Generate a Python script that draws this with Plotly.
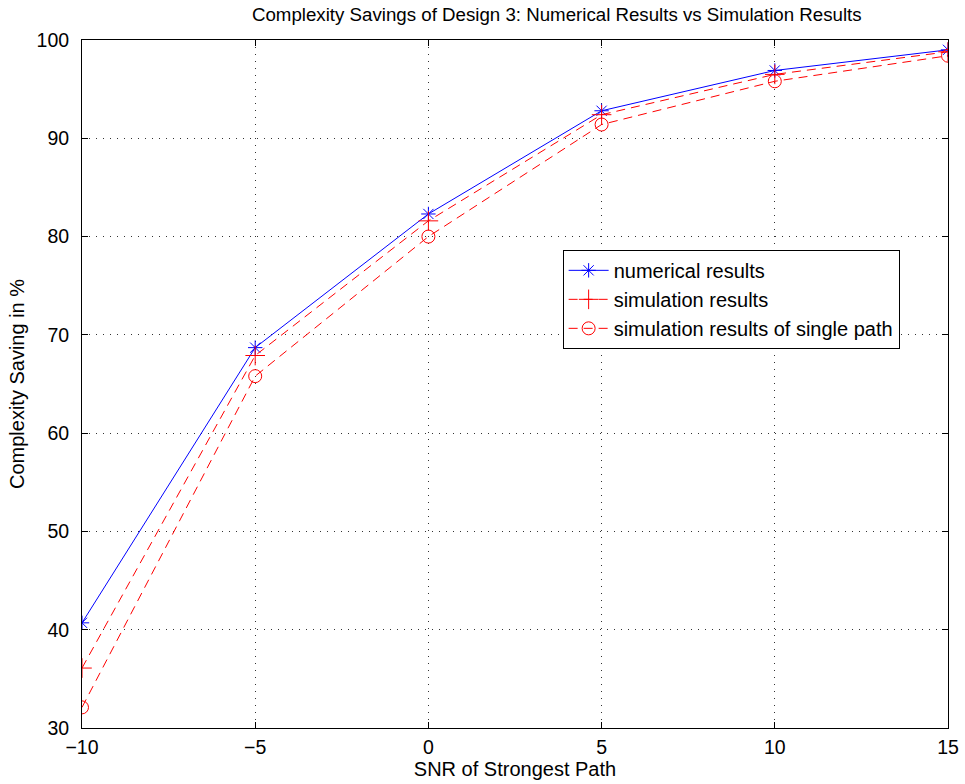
import plotly.graph_objects as go

snr = [-10, -5, 0, 5, 10, 15]
numerical = [40.7, 68.7, 82.3, 92.8, 96.9, 99.0]
simulation = [36.1, 67.9, 81.6, 92.4, 96.5, 98.8]
single_path = [32.1, 65.8, 80.0, 91.4, 95.8, 98.4]

x_ticks = [-10, -5, 0, 5, 10, 15]
y_ticks = [30, 40, 50, 60, 70, 80, 90, 100]

FONT = "Liberation Sans, Arial"

fig = go.Figure()
fig.add_trace(go.Scatter(
    x=snr, y=numerical, mode="lines+markers", name="numerical results",
    line=dict(color="blue", width=1),
    marker=dict(symbol="asterisk-open", size=12, color="blue", line=dict(color="blue", width=1))))
fig.add_trace(go.Scatter(
    x=snr, y=simulation, mode="lines+markers", name="simulation results",
    line=dict(color="red", width=1, dash="9px,6px"),
    marker=dict(symbol="cross-thin-open", size=14, color="red", line=dict(color="red", width=1))))
fig.add_trace(go.Scatter(
    x=snr, y=single_path, mode="lines+markers", name="simulation results of single path",
    line=dict(color="red", width=1, dash="9px,6px"),
    marker=dict(symbol="circle-open", size=13, color="red", line=dict(color="red", width=1))))

axis_common = dict(
    showline=True, linecolor="black", linewidth=1, mirror="ticks",
    ticks="inside", ticklen=6, tickcolor="black",
    showgrid=True, gridcolor="#333333", griddash="1px,6px", gridwidth=1,
    zeroline=False, automargin=False,
    tickfont=dict(family=FONT, size=19.5, color="black"),
)

fig.update_xaxes(range=[-10, 15], tickvals=x_ticks, ticktext=[str(v).replace("-", "\u2212") for v in x_ticks],
                 ticklabelstandoff=2,
                 title=dict(text="SNR of Strongest Path", font=dict(family=FONT, size=20, color="black"), standoff=4),
                 **axis_common)
fig.update_yaxes(range=[30, 100], tickvals=y_ticks, ticklabelstandoff=8,
                 title=dict(text="Complexity Saving in %", font=dict(family=FONT, size=20, color="black"), standoff=6),
                 **axis_common)

fig.update_layout(
    width=965, height=784,
    margin=dict(l=82, r=17, t=40, b=56),
    paper_bgcolor="white", plot_bgcolor="white",
    title=dict(text="Complexity Savings of Design 3: Numerical Results vs Simulation Results",
               x=0.577, xanchor="center", y=1 - 14 / 784, yanchor="middle", yref="container",
               font=dict(family=FONT, size=18.7, color="black")),
    legend=dict(x=0.555, y=0.695, xanchor="left", yanchor="top",
                bordercolor="black", borderwidth=1, bgcolor="white",
                font=dict(family=FONT, size=20, color="black"),
                tracegroupgap=0, itemwidth=40),
    showlegend=True,
)

fig.write_html("out.html")
